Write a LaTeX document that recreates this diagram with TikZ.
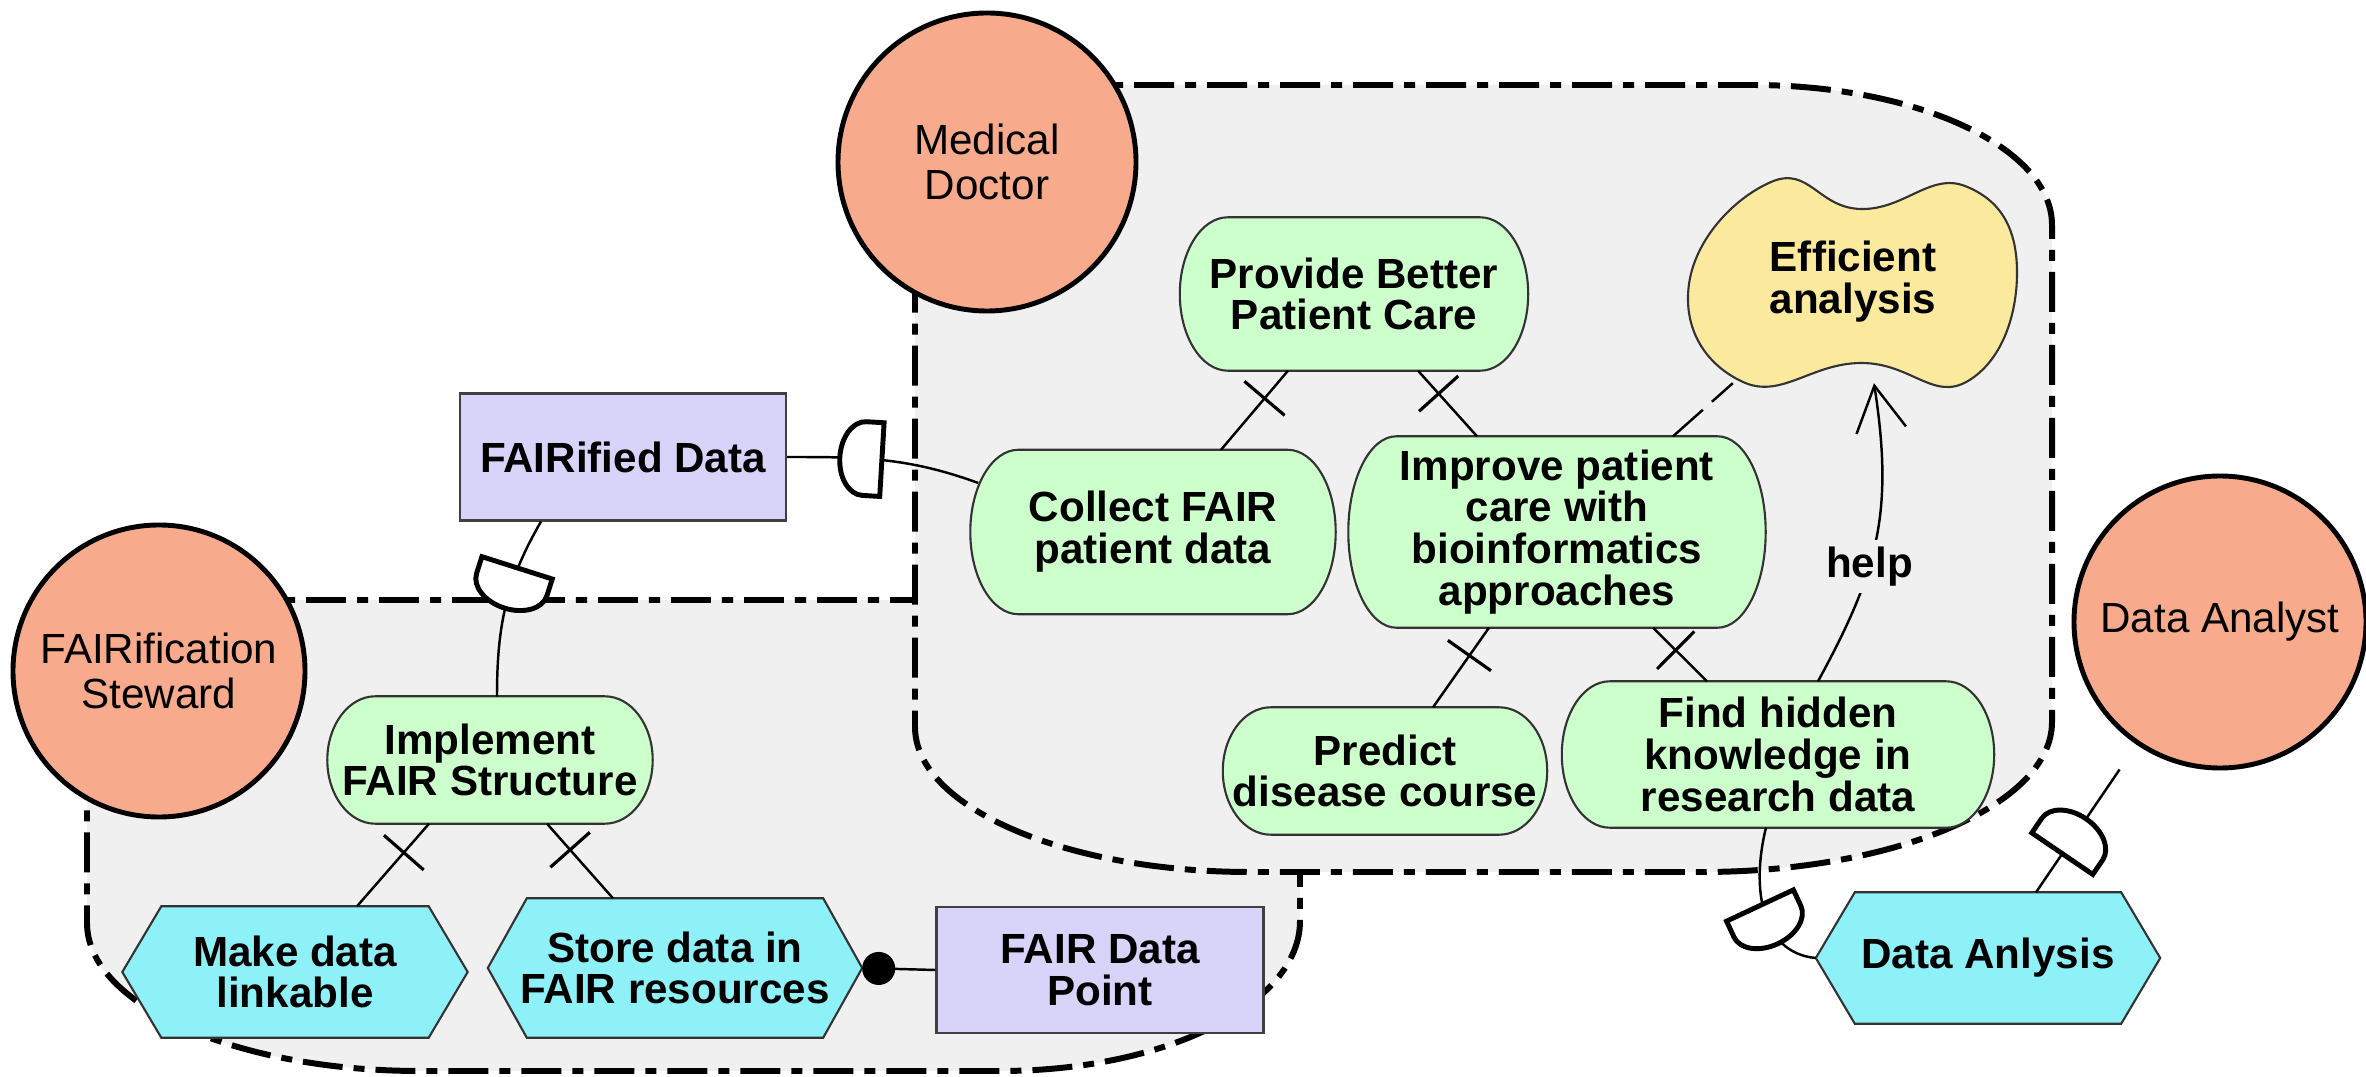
\documentclass[tikz,border=0pt]{standalone}
\usepackage{fontspec}
\setmainfont{Liberation Sans}
\usetikzlibrary{arrows.meta,calc,decorations.markings}
\definecolor{mygray}{RGB}{240,240,240}
\definecolor{mysalmon}{RGB}{248,170,140}
\definecolor{mygreen}{RGB}{204,255,204}
\definecolor{mycyan}{RGB}{143,241,248}
\definecolor{mylavender}{RGB}{216,211,248}
\definecolor{myyellow}{RGB}{251,233,157}
\pgfdeclarelayer{groups}
\pgfdeclarelayer{shapes}
\pgfsetlayers{groups,shapes,main}

\begin{document}
\begin{tikzpicture}[
    txt/.style={font=\bfseries\fontsize{12}{11.9}\selectfont, align=center, inner sep=0pt},
    actor/.style={circle, draw=black, line width=1.4pt, fill=mysalmon, align=center, inner sep=0pt, font=\fontsize{12}{12.6}\selectfont},
    resource/.style={txt, rectangle, draw=black!75, line width=0.6pt, fill=mylavender},
    element/.style={txt, rectangle},
    outline/.style={draw=black!80, line width=0.6pt},
    boundary/.style={draw=black, fill=mygray, line width=1.7pt, dash pattern=on 0.4cm off 0.11cm on 0.11cm off 0.11cm},
    link/.style={line width=0.7pt},
    decomp/.style={link, decoration={markings, mark=at position #1 with {\draw[line width=0.9pt] (0pt,-7.5pt) -- (0pt,7.5pt);}}, postaction={decorate}},
    decomp/.default=0.35,
    dep/.style={link, decoration={markings, mark=at position #1 with {\draw[line width=1.4pt, fill=white] (-6pt,-10.5pt) -- (-6pt,10.5pt) -- (-1pt,10.5pt) arc[start angle=90, end angle=-90, x radius=7pt, y radius=10.5pt] -- cycle;}}, postaction={decorate}}
  ]
  \useasboundingbox (0,0) rectangle (23.66,10.76);

  % Actors
  \node[actor, minimum size=2.98cm] (doctor) at (9.87,9.14) {Medical\\Doctor};
  \node[actor, minimum size=2.92cm] (steward) at (1.59,4.05) {FAIRification\\Steward};
  \node[actor, minimum size=2.92cm] (analyst) at (22.20,4.54) {Data Analyst};

  % Goals (outline drawn below on the shapes layer)
  \node[element, minimum width=3.47cm, minimum height=1.52cm] (provideCare) at (13.54,7.82) {Provide Better\\Patient Care};
  \node[element, minimum width=3.64cm, minimum height=1.63cm] (collectData) at (11.53,5.44) {Collect FAIR\\patient data};
  \node[element, minimum width=4.16cm, minimum height=1.90cm] (improveCare) at (15.57,5.44) {Improve patient\\care with\\bioinformatics\\approaches};
  \node[element, minimum width=3.23cm, minimum height=1.26cm] (predictCourse) at (13.85,3.05) {Predict\\disease course};
  \node[element, minimum width=4.31cm, minimum height=1.45cm] (findKnowledge) at (17.78,3.215) {Find hidden\\knowledge in\\research data};
  \node[element, minimum width=3.24cm, minimum height=1.26cm] (implementFair) at (4.90,3.16) {Implement\\FAIR Structure};

  % Softgoal
  \node[element, minimum width=3.27cm, minimum height=2.01cm] (efficientAnalysis) at (18.53,7.94) {Efficient\\analysis};

  % Tasks
  \node[element, minimum width=3.44cm, minimum height=1.30cm] (makeLinkable) at (2.95,1.04) {Make data\\linkable};
  \node[element, minimum width=3.73cm, minimum height=1.38cm] (storeData) at (6.75,1.08) {Store data in\\FAIR resources};
  \node[element, minimum width=3.43cm, minimum height=1.30cm] (dataAnalysis) at (19.88,1.18) {Data Anlysis};

  % Resources
  \node[resource, minimum width=3.26cm, minimum height=1.27cm] (fairData) at (6.23,6.19) {FAIRified Data};
  \node[resource, minimum width=3.27cm, minimum height=1.26cm] (fairPoint) at (11.00,1.06) {FAIR Data\\Point};

  % Actor boundaries
  \begin{pgfonlayer}{groups}
    \path[boundary] (0.87,4.76) -- (13.00,4.76) -- (13.00,1.55) .. controls (13.00,0.72) and (11.66,0.05) .. (10.00,0.05) -- (4.20,0.05) .. controls (2.36,0.05) and (0.87,0.71) .. (0.87,1.53) -- cycle;
    \path[boundary] (9.15,9.91) -- (17.52,9.91) .. controls (19.18,9.91) and (20.52,9.28) .. (20.52,8.51) -- (20.52,3.54) .. controls (20.52,2.71) and (18.95,2.04) .. (17.02,2.04) -- (12.50,2.04) .. controls (10.65,2.04) and (9.15,2.69) .. (9.15,3.49) -- cycle;
  \end{pgfonlayer}

  % Element outlines
  \begin{pgfonlayer}{shapes}
    \foreach \goalName in {provideCare,collectData,improveCare,predictCourse,findKnowledge,implementFair}
      \path[outline, fill=mygreen] let \p1=(\goalName.north west), \p2=(\goalName.south east), \n1={0.5*(\y1-\y2)} in
        (\x1+0.48cm,\y1) -- (\x2-0.48cm,\y1) arc[start angle=90, end angle=-90, x radius=0.48cm, y radius=\n1]
        -- (\x1+0.48cm,\y2) arc[start angle=270, end angle=90, x radius=0.48cm, y radius=\n1] -- cycle;
    \foreach \taskName in {makeLinkable,storeData,dataAnalysis}
      \path[outline, fill=mycyan] ([xshift=0.39cm]\taskName.north west) -- ([xshift=-0.39cm]\taskName.north east) -- (\taskName.east)
        -- ([xshift=-0.39cm]\taskName.south east) -- ([xshift=0.39cm]\taskName.south west) -- (\taskName.west) -- cycle;
    \path[outline, fill=myyellow, shift={(efficientAnalysis.center)}] plot[smooth cycle, tension=0.8] coordinates
      {(-0.82,1.00) (0.08,0.73) (1.12,0.96) (1.64,0.12) (1.15,-0.99) (0.08,-0.81) (-1.10,-1.00) (-1.64,-0.02)};
  \end{pgfonlayer}

  % Decomposition links
  \draw[decomp] ([xshift=-0.66cm]provideCare.south) -- ([xshift=0.68cm]collectData.north);
  \draw[decomp] ([xshift=0.64cm]provideCare.south) -- ([xshift=-0.80cm]improveCare.north);
  \draw[decomp] ([xshift=-0.68cm]improveCare.south) -- ([xshift=0.48cm]predictCourse.north);
  \draw[decomp=0.42] ([xshift=0.96cm]improveCare.south) -- ([xshift=-0.71cm]findKnowledge.north);
  \draw[decomp] ([xshift=-0.61cm]implementFair.south) -- ([xshift=0.62cm]makeLinkable.north);
  \draw[decomp] ([xshift=0.57cm]implementFair.south) -- ([xshift=-0.62cm]storeData.north);

  % Contribution and help links
  \draw[link, dash pattern=on 0.4cm off 0.12cm] ([xshift=1.16cm]improveCare.north) -- ([xshift=0.44cm]efficientAnalysis.south west);
  \draw[link, -{Straight Barb[length=0.45cm, width=0.5cm]}] ([xshift=0.4cm]findKnowledge.north) .. controls +(0.6,1.1) and +(0.2,-1.3) .. ([xshift=0.21cm]efficientAnalysis.south) node[pos=0.4, txt, fill=mygray, inner sep=2pt] {help};

  % Dependencies
  \draw[dep=0.62] ([shift={(0.08,0.49)}]collectData.west) to[out=160, in=0] (fairData.east);
  \draw[dep=0.4] ([xshift=-0.82cm]fairData.south) to[out=240, in=90] ([xshift=0.07cm]implementFair.north);
  \draw[dep=0.62] ([xshift=-0.12cm]findKnowledge.south) .. controls +(-0.15,-0.6) and +(-0.55,0.05) .. (dataAnalysis.west);
  \draw[dep=0.38, shorten >=0.3cm] ([xshift=0.48cm]dataAnalysis.north) -- (analyst);

  % Resource link
  \draw[link, {Circle[length=0.33cm]}-] (storeData.east) -- (fairPoint.west);
\end{tikzpicture}
\end{document}
